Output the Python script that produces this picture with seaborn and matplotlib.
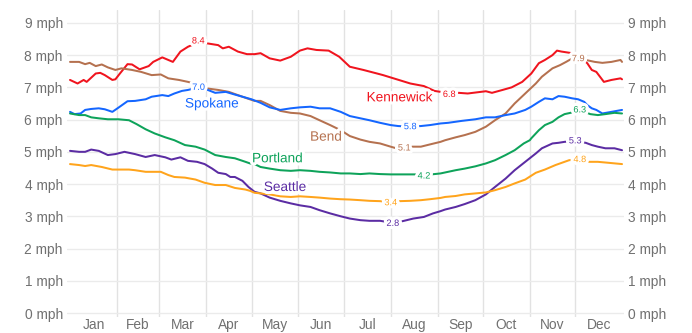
import matplotlib
matplotlib.use("Agg")
import matplotlib.pyplot as plt
import matplotlib.patheffects as pe
import seaborn as sns
import pandas as pd

# ---------------- data (day of year, mph) ----------------
kennewick_days = [0,5,9,11,17,20,23,28,30,33,38,41,46,52,55,61,64,68,73,78,85,90,98,101,105,111,117,122,126,132,139,146,152,157,163,171,178,185,194,203,207,216,225,234,241,245,251,257,263,275,279,286,292,299,305,310,314,319,322,325,332,337,342,345,348,353,358,364,365]
kennewick_vals = [7.23,7.12,7.23,7.17,7.43,7.45,7.38,7.23,7.25,7.43,7.72,7.71,7.56,7.66,7.79,7.93,7.87,7.79,8.11,8.26,8.40,8.37,8.31,8.21,8.26,8.11,8.03,8.03,8.06,7.90,7.83,7.95,8.14,8.21,8.16,8.14,7.95,7.64,7.54,7.43,7.38,7.25,7.12,7.04,6.89,6.86,6.80,6.83,6.81,6.88,6.83,6.92,7.00,7.17,7.43,7.75,7.85,8.00,8.14,8.11,8.06,7.95,7.75,7.54,7.48,7.17,7.23,7.28,7.25]

bend_days = [0,6,10,13,17,21,25,30,34,41,47,54,60,65,72,78,82,85,90,98,105,111,117,122,126,132,139,146,152,159,165,172,179,185,192,198,205,212,215,220,225,232,238,245,248,255,261,268,275,281,288,294,301,308,312,319,324,328,331,336,343,347,352,358,364,365]
bend_vals = [7.79,7.79,7.72,7.76,7.66,7.71,7.62,7.54,7.59,7.54,7.48,7.38,7.40,7.28,7.23,7.17,7.12,7.05,6.97,6.92,6.86,6.76,6.66,6.58,6.58,6.45,6.27,6.21,6.19,6.11,5.98,5.83,5.67,5.49,5.38,5.31,5.26,5.16,5.12,5.10,5.16,5.16,5.23,5.31,5.36,5.45,5.52,5.62,5.78,5.98,6.19,6.50,6.81,7.12,7.33,7.59,7.69,7.79,7.87,7.90,7.83,7.79,7.76,7.79,7.85,7.79]

spokane_days = [0,3,7,10,14,19,23,28,32,38,43,50,54,61,65,69,74,78,85,90,96,103,108,114,120,126,132,139,146,152,159,165,172,179,185,192,198,205,212,217,225,232,238,245,250,259,268,275,281,288,294,301,305,310,314,319,323,327,332,336,340,342,345,348,352,358,365]
spokane_vals = [6.24,6.17,6.19,6.30,6.33,6.35,6.32,6.24,6.37,6.57,6.58,6.63,6.71,6.76,6.73,6.81,6.89,6.92,7.00,6.94,6.83,6.86,6.79,6.71,6.63,6.52,6.38,6.30,6.35,6.38,6.40,6.35,6.35,6.24,6.11,6.04,5.98,5.90,5.83,5.80,5.78,5.80,5.83,5.88,5.90,5.96,6.01,6.07,6.07,6.14,6.19,6.30,6.40,6.55,6.66,6.63,6.73,6.71,6.66,6.63,6.55,6.45,6.35,6.30,6.19,6.24,6.30]

portland_days = [0,6,10,14,19,25,32,39,44,50,56,63,69,76,83,89,96,103,109,116,119,122,126,132,139,146,152,159,165,172,179,185,192,198,205,212,220,228,234,239,245,248,255,261,268,275,281,288,294,300,304,305,310,314,319,323,327,331,337,344,349,354,360,365]
portland_vals = [6.19,6.14,6.14,6.07,6.04,6.01,6.01,5.98,5.86,5.70,5.57,5.45,5.36,5.21,5.16,5.07,4.90,4.84,4.80,4.69,4.64,4.62,4.53,4.48,4.43,4.41,4.43,4.41,4.38,4.36,4.33,4.33,4.31,4.33,4.31,4.30,4.30,4.30,4.25,4.30,4.33,4.36,4.43,4.48,4.55,4.64,4.74,4.90,5.05,5.26,5.36,5.42,5.67,5.83,5.93,6.07,6.17,6.21,6.30,6.17,6.14,6.17,6.21,6.19]

seattle_days = [0,6,10,14,19,25,30,36,43,50,56,63,67,73,78,84,89,94,98,103,106,109,114,118,122,126,132,139,146,152,159,165,172,179,185,192,198,205,213,220,227,234,240,245,248,255,261,268,275,281,288,294,301,308,312,319,323,327,334,341,345,349,354,360,365]
seattle_vals = [5.03,5.00,5.00,5.07,5.03,4.90,4.93,5.00,4.93,4.84,4.90,4.83,4.76,4.83,4.72,4.69,4.62,4.48,4.35,4.31,4.22,4.22,4.10,3.91,3.76,3.71,3.58,3.48,3.40,3.34,3.29,3.19,3.09,3.00,2.93,2.88,2.86,2.86,2.80,2.85,2.93,2.98,3.09,3.16,3.21,3.29,3.38,3.50,3.68,3.91,4.17,4.43,4.69,4.95,5.11,5.26,5.28,5.31,5.33,5.28,5.21,5.16,5.11,5.11,5.05]

other_days = [0,6,10,14,21,28,32,39,43,50,56,60,65,69,76,83,89,96,103,109,116,119,122,126,132,139,146,152,159,165,172,179,185,192,198,205,212,218,225,232,238,245,248,255,261,268,275,281,288,294,301,308,314,321,327,330,336,343,349,356,365]
other_vals = [4.62,4.59,4.56,4.59,4.53,4.45,4.45,4.45,4.43,4.38,4.38,4.38,4.28,4.22,4.20,4.14,4.04,3.97,3.97,3.88,3.83,3.79,3.73,3.71,3.68,3.62,3.60,3.62,3.60,3.58,3.55,3.53,3.52,3.50,3.48,3.47,3.43,3.47,3.48,3.50,3.53,3.57,3.60,3.63,3.68,3.71,3.74,3.81,3.91,4.02,4.14,4.35,4.45,4.59,4.69,4.74,4.77,4.69,4.69,4.66,4.62]

series_names = ["Kennewick", "Bend", "Spokane", "Portland", "Seattle", "Other"]
series_colors = ["#f0141e", "#b5714f", "#1466ff", "#0ea35a", "#5b2ca3", "#ffa41c"]

# value labels: (series, day, value, text)
value_label_series = ["Kennewick", "Spokane", "Kennewick", "Spokane", "Bend", "Bend", "Portland", "Seattle", "Other", "Portland", "Other", "Seattle"]
value_label_days = [84.7, 85.0, 250.7, 224.9, 221.0, 336.0, 337.0, 334.0, 337.0, 234.0, 212.0, 213.4]
value_label_vals = [8.44, 7.00, 6.78, 5.78, 5.12, 7.89, 6.30, 5.34, 4.76, 4.25, 3.42, 2.78]
value_label_texts = ["8.4", "7.0", "6.8", "5.8", "5.1", "7.9", "6.3", "5.3", "4.8", "4.2", "3.4", "2.8"]

# city name labels
name_labels = ["Kennewick", "Spokane", "Bend", "Portland", "Seattle"]
name_days = [218.0, 93.9, 169.3, 137.2, 142.2]
name_vals = [6.69, 6.50, 5.47, 4.80, 3.91]

months = ["Jan", "Feb", "Mar", "Apr", "May", "Jun", "Jul", "Aug", "Sep", "Oct", "Nov", "Dec"]
month_lengths = [31, 28, 31, 30, 31, 30, 31, 31, 30, 31, 30, 31]
y_ticks = [0, 1, 2, 3, 4, 5, 6, 7, 8, 9]

# ---------------- build table ----------------
frames = []
for name, d, v in zip(series_names,
                      [kennewick_days, bend_days, spokane_days, portland_days, seattle_days, other_days],
                      [kennewick_vals, bend_vals, spokane_vals, portland_vals, seattle_vals, other_vals]):
    frames.append(pd.DataFrame({"day": d, "mph": v, "city": name}))
df = pd.concat(frames, ignore_index=True)
palette = dict(zip(series_names, series_colors))

# ---------------- style ----------------
sns.set_style("white")
plt.rcParams["font.family"] = ["Liberation Sans", "DejaVu Sans"]

fig = plt.figure(figsize=(6.92, 3.33), dpi=100)
ax = fig.add_axes([67 / 692, 16 / 333, (624 - 67) / 692, (317 - 10) / 333])

sns.lineplot(data=df, x="day", y="mph", hue="city", palette=palette,
             estimator=None, sort=False, legend=False, linewidth=1.45, ax=ax, zorder=3)

halo = [pe.withStroke(linewidth=4.5, foreground="white")]
for s, d, v, t in zip(value_label_series, value_label_days, value_label_vals, value_label_texts):
    ax.text(d, v, t, color=palette[s], fontsize=6.6, ha="center", va="center",
            path_effects=halo, zorder=5)

for n, d, v in zip(name_labels, name_days, name_vals):
    ax.text(d, v, n, color=palette[n], fontsize=9.8, ha="center", va="center",
            path_effects=halo, zorder=5)

# axes
ax.set_xlim(-2.0, 366.3)
ax.set_ylim(-0.124, 9.40)

bounds = []
acc = 0
centers = []
for L in month_lengths:
    centers.append(acc + L / 2)
    acc += L
    bounds.append(acc)
ax.set_xticks(centers)
ax.set_xticklabels(months)
ax.set_xticks(bounds[:-1], minor=True)
ax.set_yticks(y_ticks)
ax.set_yticklabels([f"{t} mph" for t in y_ticks])

ax.tick_params(axis="x", which="both", length=0, pad=1, labelsize=9.9, colors="#707070")
ax.tick_params(axis="y", which="both", length=0, pad=3, labelsize=9.9, colors="#707070",
               labelleft=True, labelright=True)

ax.grid(False)
ax.grid(axis="y", which="major", color="#ebebeb", linewidth=1.0, zorder=0)
ax.grid(axis="x", which="minor", color="#e2e2e2", linewidth=1.0, zorder=0)
ax.set_axisbelow(True)
for sp in ax.spines.values():
    sp.set_visible(False)
ax.set_xlabel("")
ax.set_ylabel("")

fig.savefig("out.png", dpi=100, facecolor="white")
